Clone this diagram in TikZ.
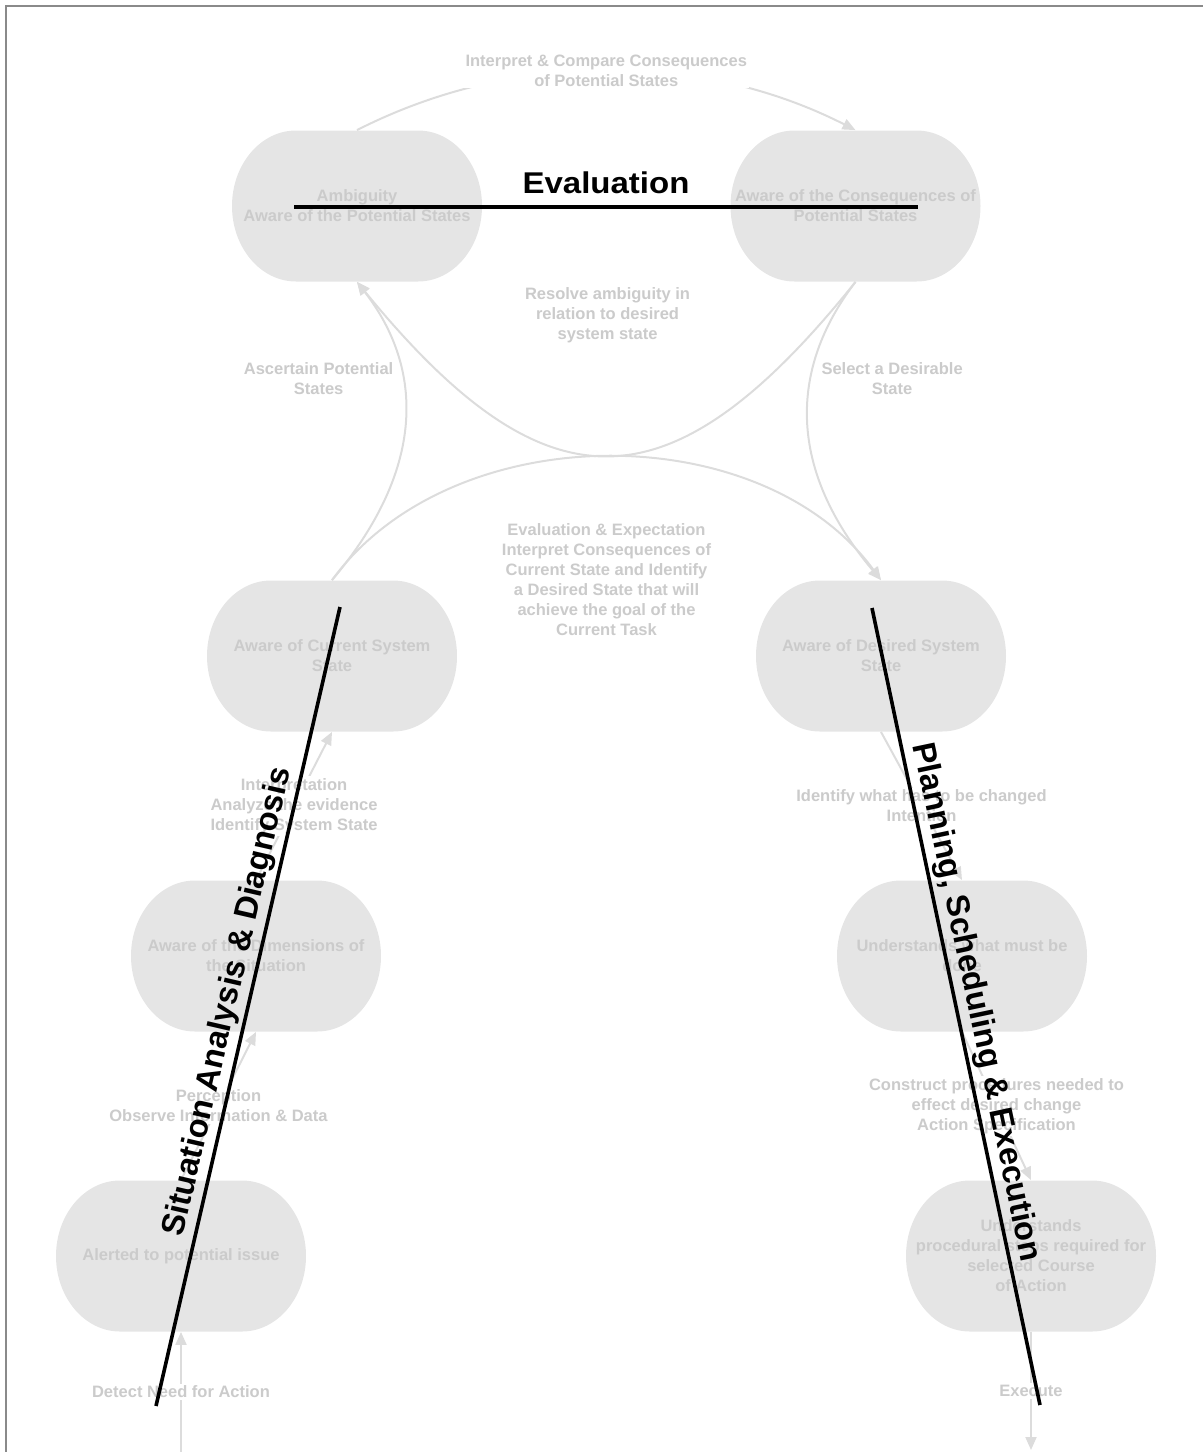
\documentclass[tikz,border=0pt]{standalone}
\usepackage{fontspec}
\usepackage{graphicx}
\setmainfont{Liberation Sans}
\usetikzlibrary{arrows.meta}

\definecolor{nodefill}{HTML}{E5E5E5}
\definecolor{softtext}{HTML}{CBCBCB}
\definecolor{linkgray}{HTML}{DCDCDC}
\definecolor{framegray}{HTML}{8A8A8A}

\newcommand\softfont{\fontsize{8.25}{10}\selectfont\bfseries}
\newcommand\phasefont{\fontsize{16.3}{19}\selectfont\bfseries}
\newcommand\evalfont{\fontsize{15}{18}\selectfont\bfseries}
\newcommand\widen[1]{\scalebox{1.1}[1]{#1}}

\begin{document}
\begin{tikzpicture}[x=0.5pt,y=0.5pt,
  statebox/.style={minimum width=125pt, minimum height=75.5pt, inner sep=0pt,
    align=center, font=\softfont, text=softtext,
    path picture={\fill[nodefill]
      ([xshift=32pt]path picture bounding box.north west)
        -- ([xshift=-32pt]path picture bounding box.north east)
        arc[start angle=90, end angle=-90, x radius=32pt, y radius=37.75pt]
        -- ([xshift=32pt]path picture bounding box.south west)
        arc[start angle=270, end angle=90, x radius=32pt, y radius=37.75pt]
        -- cycle;}},
  link/.style={draw=linkgray, line width=1pt,
    -{Triangle[length=6.5pt, width=5.5pt, color=linkgray]}},
  softlabel/.style={font=\softfont, text=softtext, align=center,
    fill=white, inner sep=1pt},
  phase/.style={draw=black, line width=1.8pt},
  phasetext/.style={font=\phasefont, text=black, inner sep=1.5pt}]

\useasboundingbox (0,0) rectangle (1203,-1452);

% page frame
\draw[framegray, line width=1.2pt] (6,-1470) -- (6,-6) -- (1220,-6);

% states
\node[statebox] (amb)   at (357,-206)   {Ambiguity\\Aware of the Potential States};
\node[statebox] (cons)  at (855.5,-206) {Aware of the Consequences of\\Potential States};
\node[statebox] (cur)   at (332,-656)   {Aware of Current System\\State};
\node[statebox] (des)   at (881,-656)   {Aware of Desired System\\State};
\node[statebox] (dim)   at (256,-956)   {Aware of the Dimensions of\\the Situation};
\node[statebox] (must)  at (962,-956)   {Understands what must be\\done};
\node[statebox] (alert) at (181,-1256)  {Alerted to potential issue};
\node[statebox] (proc)  at (1031,-1256) {Understands\\procedural steps required for\\selected Course\\of Action};

\coordinate (trigger) at (181,-1452);
\coordinate (outlet)  at (1031,-1450);

% transitions of the evaluation loop
\draw[link] (amb.north) .. controls +(27:175) and +(153:175) ..
  node[softlabel] {Interpret \& Compare Consequences\\of Potential States} (cons.north);
\draw[link] (cons.south) .. controls (670,-513) and (546,-513) ..
  node[softlabel, yshift=70pt] {Resolve ambiguity in\\relation to desired\\system state} (amb.south);
\draw[link] (cur.north) .. controls (452,-416) and (761,-416) ..
  node[softlabel, yshift=-61.5pt] {Evaluation \& Expectation\\Interpret Consequences of\\Current State and Identify\\a Desired State that will\\achieve the goal of the\\Current Task} (des.north);
\draw[link] (cur.north) .. controls (425,-470) and (425,-370) ..
  node[softlabel, pos=0.65, anchor=east, xshift=-3pt] {Ascertain Potential\\States} (amb.south);
\draw[link] (cons.south) .. controls (788,-370) and (788,-470) ..
  node[softlabel, pos=0.35, anchor=west, xshift=4pt] {Select a Desirable\\State} (des.north);

% analysis side
\draw[link] (trigger) -- node[softlabel] {Detect Need for Action} (alert.south);
\draw[link] (alert.north) -- node[softlabel] {Perception\\Observe Information \& Data} (dim.south);
\draw[link] (dim.north) -- node[softlabel] {Interpretation\\Analyze the evidence\\Identify System State} (cur.south);

% planning side
\draw[link] (des.south) -- node[softlabel] {Identify what has to be changed\\Intention} (must.north);
\draw[link] (must.south) -- node[softlabel] {Construct procedures needed to\\effect desired change\\Action Specification} (proc.north);
\draw[link] (proc.south) -- node[softlabel] {Execute} (outlet);

% phase annotations
\coordinate (evalL) at (294,-207);
\coordinate (evalR) at (918,-207);
\draw[phase, line width=2.2pt] (evalL) -- node[font=\evalfont, above=5.5pt, inner sep=0pt] {\widen{Evaluation}} (evalR);

\coordinate (sitA) at (156,-1406);
\coordinate (sitB) at (340,-607);
\draw[phase] (sitA) -- node[phasetext, sloped, above] {Situation Analysis \& Diagnosis} (sitB);

\coordinate (planA) at (872,-608);
\coordinate (planB) at (1040,-1405);
\draw[phase] (planA) -- node[phasetext, sloped, above] {Planning, Scheduling \& Execution} (planB);

\end{tikzpicture}
\end{document}
